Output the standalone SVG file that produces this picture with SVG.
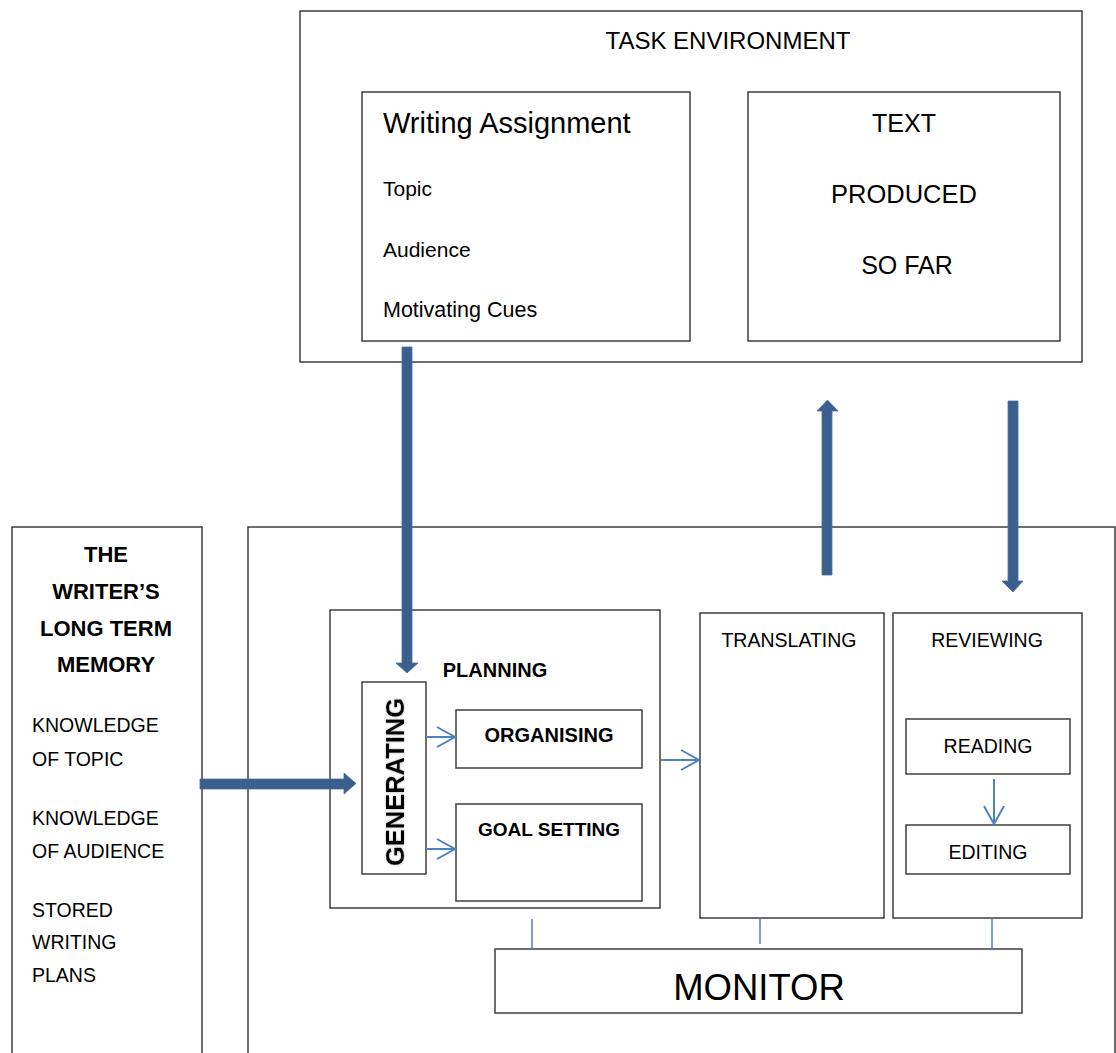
<svg xmlns="http://www.w3.org/2000/svg" width="1116" height="1053" viewBox="0 0 1116 1053">
<defs>
<style>
.box{fill:none;stroke:#3f3f3f;stroke-width:1.5}
.t{font-family:"Liberation Sans",Arial,sans-serif;fill:#000}
.b{font-weight:bold}
.c{text-anchor:middle}
.thick{fill:#3b5f8c;stroke:#4a6f9e;stroke-width:0.8}
.thin{stroke:#4f81bd;stroke-width:2;fill:none}
.tick{stroke:#4f81bd;stroke-width:1.5;fill:none}
</style>
<marker id="chev" markerUnits="userSpaceOnUse" markerWidth="22" markerHeight="24" refX="19" refY="11" orient="auto">
<path d="M1,1 L19,11 L1,21" fill="none" stroke="#4f81bd" stroke-width="2"/>
</marker>
<filter id="glow" x="-20%" y="-20%" width="140%" height="140%">
<feGaussianBlur in="SourceAlpha" stdDeviation="1.2" result="bl"/>
<feFlood flood-color="#888" flood-opacity="0.7"/>
<feComposite in2="bl" operator="in" result="sh"/>
<feMerge><feMergeNode in="sh"/><feMergeNode in="SourceGraphic"/></feMerge>
</filter>
</defs>
<rect width="1116" height="1053" fill="#fff"/>

<g id="task-environment">
<rect class="box" x="300" y="11" width="782" height="351"/>
<text class="t c" x="728" y="49" font-size="24">TASK ENVIRONMENT</text>
</g>
<g id="writing-assignment">
<rect class="box" x="362" y="92" width="328" height="249"/>
<text class="t" x="383" y="133" font-size="29">Writing Assignment</text>
<text class="t" x="383" y="196" font-size="21">Topic</text>
<text class="t" x="383" y="257" font-size="21">Audience</text>
<text class="t" x="383" y="317" font-size="21.5">Motivating Cues</text>
</g>
<g id="text-produced">
<rect class="box" x="748" y="92" width="312" height="249"/>
<text class="t c" x="904" y="132" font-size="25">TEXT</text>
<text class="t c" x="904" y="203" font-size="25.5">PRODUCED</text>
<text class="t c" x="907" y="274" font-size="25">SO FAR</text>
</g>
<g id="long-term-memory">
<path class="box" d="M12,1060 V527 H202 V1060"/>
<text class="t b c" x="106" y="562" font-size="22">THE</text>
<text class="t b c" x="106" y="599" font-size="22">WRITER’S</text>
<text class="t b c" x="106" y="636" font-size="22">LONG TERM</text>
<text class="t b c" x="106" y="672" font-size="22">MEMORY</text>
<text class="t" x="32" y="732" font-size="19.5">KNOWLEDGE</text>
<text class="t" x="32" y="766" font-size="19.5">OF TOPIC</text>
<text class="t" x="32" y="825" font-size="19.5">KNOWLEDGE</text>
<text class="t" x="32" y="858" font-size="19.5">OF AUDIENCE</text>
<text class="t" x="32" y="917" font-size="19.5">STORED</text>
<text class="t" x="32" y="949" font-size="19.5">WRITING</text>
<text class="t" x="32" y="982" font-size="19.5">PLANS</text>
</g>
<g id="writing-process">
<path class="box" d="M248,1060 V527 H1115 V1060"/>
</g>
<g id="planning">
<rect class="box" x="330" y="610" width="330" height="298"/>
<text class="t b c" x="495" y="677" font-size="20">PLANNING</text>
</g>
<g id="generating">
<rect class="box" x="362" y="682" width="64" height="192"/>
<text class="t b c" transform="translate(404,782) rotate(-90)" x="0" y="0" font-size="25.5" filter="url(#glow)">GENERATING</text>
</g>
<g id="organising">
<rect class="box" x="456" y="710" width="186" height="58"/>
<text class="t b c" x="549" y="742" font-size="20">ORGANISING</text>
</g>
<g id="goal-setting">
<rect class="box" x="456" y="804" width="186" height="97"/>
<text class="t b c" x="549" y="836" font-size="19">GOAL SETTING</text>
</g>
<g id="translating">
<rect class="box" x="700" y="613" width="184" height="305"/>
<text class="t c" x="789" y="647" font-size="19.5">TRANSLATING</text>
</g>
<g id="reviewing">
<rect class="box" x="893" y="613" width="189" height="305"/>
<text class="t c" x="987" y="647" font-size="19.5">REVIEWING</text>
</g>
<g id="reading">
<rect class="box" x="906" y="719" width="164" height="55"/>
<text class="t c" x="988" y="753" font-size="19.5">READING</text>
</g>
<g id="editing">
<rect class="box" x="906" y="825" width="164" height="49"/>
<text class="t c" x="988" y="859" font-size="19.5">EDITING</text>
</g>
<g id="monitor">
<rect class="box" x="495" y="949" width="527" height="64"/>
<text class="t c" x="759" y="1000" font-size="36.5">MONITOR</text>
</g>

<g id="connectors">
<polygon class="thick" points="402,347 412,347 412,663 418,663 407,673 396,663 402,663"/>
<polygon class="thick" points="200,779 344,779 344,773 356,783.5 344,794 344,789 200,789"/>
<polygon class="thick" points="822,575 822,411 817,411 827.5,400 838,411 832,411 832,575"/>
<polygon class="thick" points="1008,401 1018,401 1018,581 1023,581 1013,592 1002,581 1008,581"/>
<line class="thin" x1="426" y1="737" x2="455" y2="737" marker-end="url(#chev)"/>
<line class="thin" x1="426" y1="849" x2="455" y2="849" marker-end="url(#chev)"/>
<line class="thin" x1="661" y1="760" x2="699" y2="760" marker-end="url(#chev)"/>
<line class="thin" x1="994" y1="779" x2="994" y2="824" marker-end="url(#chev)"/>
<line class="tick" x1="532" y1="919" x2="532" y2="949"/>
<line class="tick" x1="760" y1="919" x2="760" y2="944"/>
<line class="tick" x1="992" y1="919" x2="992" y2="949"/>
</g>
</svg>
